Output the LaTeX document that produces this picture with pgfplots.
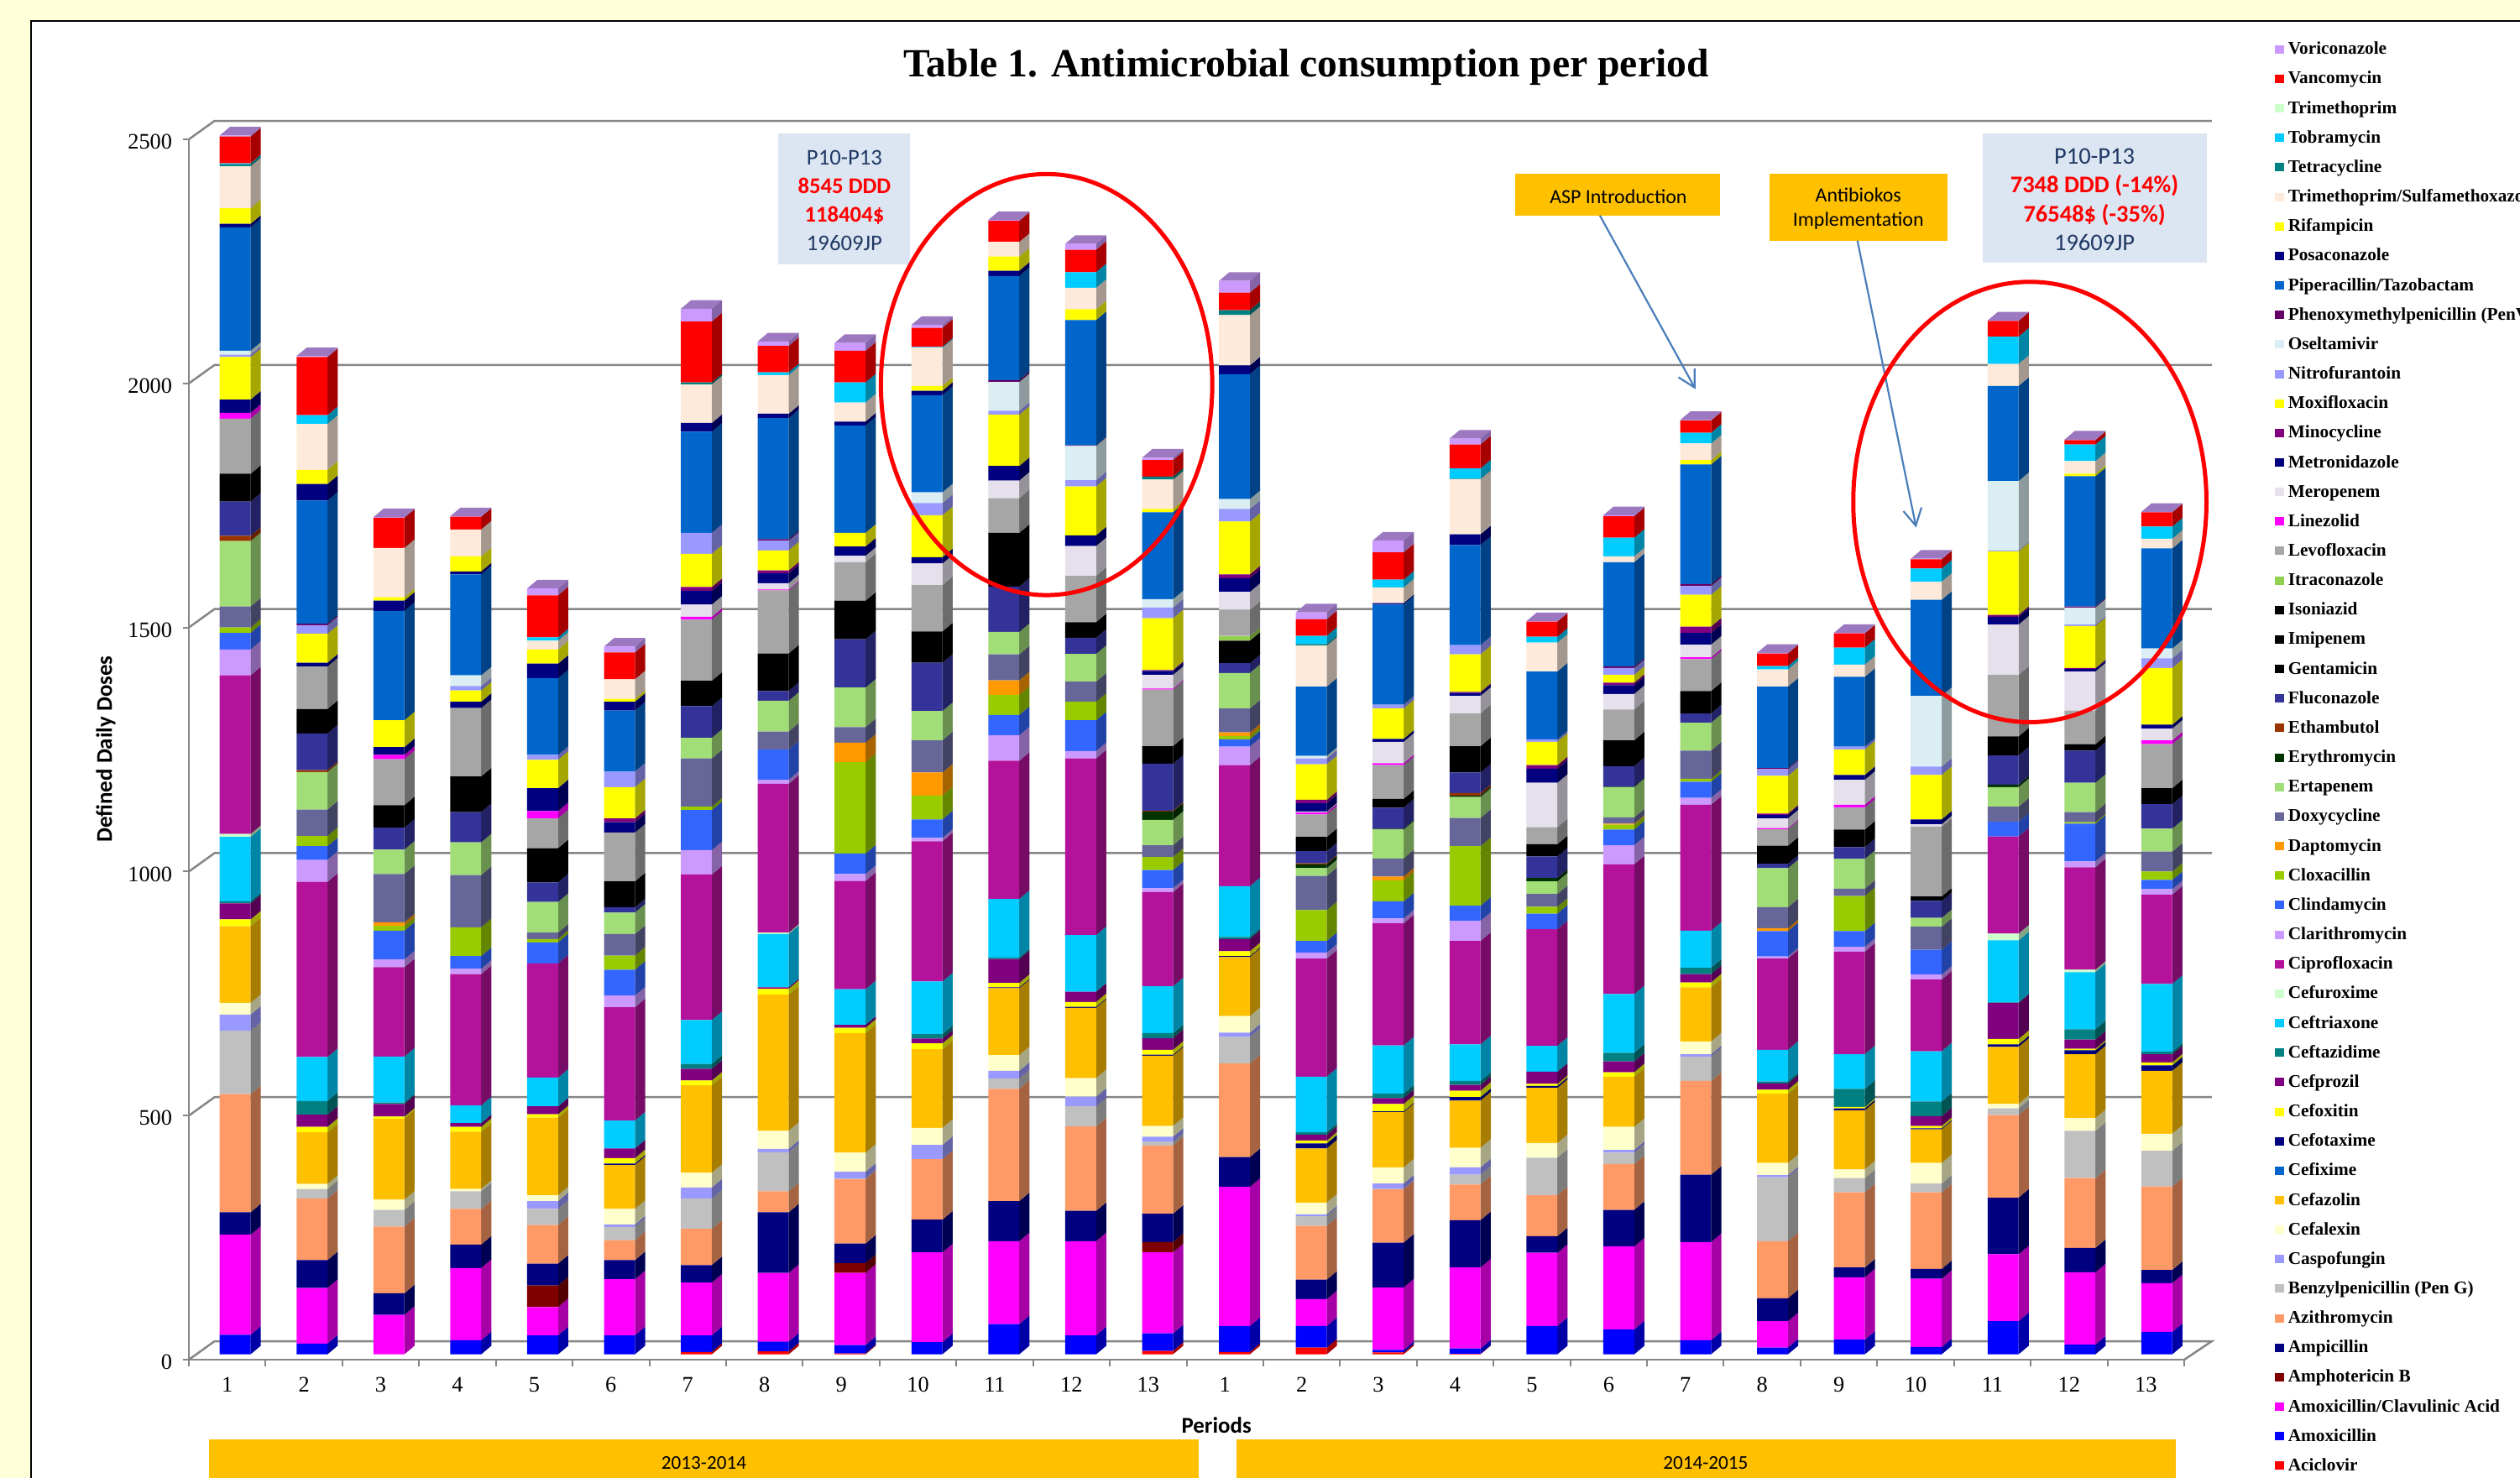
\documentclass[border=0pt]{standalone}
\usepackage{fontspec}
\setmainfont{Liberation Serif}
\newfontfamily\carlito{Carlito}
\usepackage{pgfplots}
\usepackage{pgfplotstable}
\pgfplotsset{compat=1.18}
\usetikzlibrary{arrows.meta}

% Defined daily doses per antimicrobial, one row per period (two 13-period years).
\pgfplotstableread{
p Aci Amox AmCl AmpB Ampi Azi Benz Casp Cfl Cfz Cfix Cftx Cfox Cfpr Cfta Cfrx Cfur Cip Clar Clin Clox Dapt Doxy Erta Eryt Etha Fluc Gent Imip Ison Itra Levo Linz Mero Metr Mino Moxi Nitr Osel PenV Pip Posa Rifa Tmsm Tetr Tobr Trim Vanc Vori
1  0 40 205 0 46   242 130 33 24 157  0 0 14 33 4   132 6 325 53 34  11 0 43 134 0  11 70 57 0 0  0 113 12 0 27  0 87 5 8 0   253 7 32 86 4  2 0 55 2
2  0 22 114 0 57   126 20 0 10 106   0 0 11 25 28  90 0 359 45 28   21 0 54 77 0   4 75 50 0 0   0 87 0 0 8    0 59 18 0 3  252 34 29 94 0  18 0 119 2
3  0 0 81 0 44     137 34 0 21 166   0 0 4 26 3    94 0 183 16 59   10 7 99 50 0  0 45 46 0 0   0 94 9 0 16   0 55 0 0 0   224 21 7 101 0  0 0 62 1
4  0 29 148 0 48   73 36 0 5 117     0 0 10 8 0    36 0 269 11 26   59 0 107 67 0 0 62 73 0 0   0 140 0 0 13  0 23 9 22 0  207 6 31 55 0   0 0 26 1
5  0 39 58 44 45   79 33 16 12 159   0 0 7 16 0    59 0 234 0 43    7 0 13 63 0   0 40 70 0 0   0 61 15 0 47  0 58 10 0 0  157 30 29 18 0  7 0 86 14
6  0 39 115 0 39   41 27 5 32 90     0 3 11 20 0   57 0 232 24 53   29 0 44 44 0  0 11 53 0 0   0 100 0 0 21  8 64 32 0 0  125 18 6 40 0   0 0 55 12
7  5 34 108 0 36   74 62 23 30 179   0 0 10 24 10  90 0 298 50 82   7 0 99 42 0   0 65 52 0 0   0 125 6 25 28 8 68 43 0 0  207 18 0 79 4   0 0 125 26
8  6 20 141 0 124  43 80 7 37 279    0 0 12 3 0    109 3 305 8 62   0 0 37 63 0   0 20 77 0 0   0 129 2 13 20 6 41 20 0 3  248 9 0 79 0    6 0 54 9
9  2 17 148 20 40  132 1 14 39 245   0 0 11 6 0    73 0 222 14 42   187 40 32 81 0 0 99 79 0 0  0 79 0 13 19  0 28 0 0 0   220 8 0 39 0    41 0 65 16
10 0 25 184 0 67   124 0 29 35 161   0 0 12 10 9   108 0 287 7 38   49 47 66 60 0 0 99 64 0 0   0 95 0 44 13  0 86 25 22 0 199 9 10 78 0   2 0 39 6
11 0 62 170 0 82   230 21 16 32 137  0 2 9 49 3    120 0 283 52 42  41 30 53 46 0 0 93 110 0 0  0 71 0 36 30  0 105 8 59 4 213 11 29 30 0  0 0 43 2
12 0 39 193 0 62   173 41 20 38 144  0 2 10 21 0   116 0 362 15 63  38 0 41 57 0  0 33 32 0 0   0 95 0 61 22  0 100 13 70 1 257 0 22 44 0  32 0 46 12
13 7 36 166 21 58  140 7 11 22 144   0 2 10 24 10  96 0 193 8 37    27 0 24 52 17 2 96 36 0 0   0 116 2 28 8  2 106 22 17 0 178 0 7 60 6   0 0 34 5
14 5 53 285 0 61   192 54 9 34 121   0 2 10 25 4   104 0 248 38 15  7 7 49 73 0   0 20 46 0 0   10 53 0 37 28 8 108 26 20 0 256 18 0 103 10 0 0 36 24
15 14 44 55 0 40   110 20 4 24 111   0 10 6 12 5   114 0 242 12 24  63 0 70 16 8  2 25 29 0 0   0 46 4 2 17   7 73 12 5 0  142 0 0 84 3    17 0 34 14
16 4 5 128 0 92    109 1 11 33 113   0 2 15 12 9   99 0 250 10 35   43 8 37 59 2  0 43 18 0 0   0 69 4 44 6   0 62 8 0 0   205 3 0 32 0    16 0 56 24
17 1 11 166 0 97   73 20 15 40 97    0 7 13 12 8   75 0 212 41 31   122 0 58 43 3 5 42 54 0 0   0 67 0 36 6   2 77 19 0 0  205 22 0 113 1  21 0 49 12
18 0 58 150 0 34   84 77 0 30 113    0 4 4 25 0    53 0 239 0 32    14 0 26 26 7  0 44 25 0 0   0 35 0 91 29  7 48 5 0 0   139 0 0 59 0    12 0 31 1
19 0 51 170 0 75   94 23 6 47 103    0 0 9 22 18   120 0 266 39 32  10 2 13 62 1  0 42 53 0 0   0 63 0 32 18  5 16 14 0 3  214 0 0 12 0    38 0 44 2
20 0 29 201 0 138  192 50 5 26 111   0 0 10 17 13  76 0 258 14 33   6 0 58 57 0   0 19 46 0 0   0 65 4 26 24  13 65 18 0 4 245 0 9 34 0    22 0 25 1
21 0 14 54 0 47    117 131 4 25 142  0 0 8 13 4    65 0 187 4 52    0 6 43 80 0   0 9 37 0 0    0 34 2 20 7   3 77 14 0 2  167 0 0 35 0    7 0 26 1
22 0 30 128 0 20   154 29 0 18 121   0 4 3 0 37    71 0 210 10 32   72 0 15 61 0  0 24 36 0 0   0 45 6 51 10  0 52 6 0 0   143 0 0 25 0    35 0 29 1
23 0 15 140 0 20   157 18 0 42 69    0 2 5 20 30   103 0 147 10 51  0 0 47 18 0   0 35 9 0 0    0 143 0 5 10  0 91 17 145 0 197 0 0 37 0   27 0 19 1
24 0 68 137 0 116  169 14 0 9 117    0 5 11 74 1   127 14 199 0 30  0 0 31 40 5   0 60 39 0 0   0 126 0 103 16 4 130 2 142 0 195 0 0 45 0  56 0 32 1
25 0 20 148 0 50   143 97 0 26 131   0 8 3 19 21   117 5 210 12 77  3 0 21 60 0   0 66 13 0 0   0 69 0 80 5   2 86 3 35 2  267 0 5 26 0    34 0 9 1
26 0 46 100 0 27   171 73 0 35 129   0 11 6 17 5   139 0 183 11 19  17 0 41 47 0  0 50 33 0 0   0 90 8 24 8   0 116 20 20 0 205 0 0 20 0    25 0 29 1
}\consumption

% Series colours
\definecolor{cAci}{HTML}{FF0000}\definecolor{cAmox}{HTML}{0000FF}\definecolor{cAmCl}{HTML}{FF00FF}
\definecolor{cAmpB}{HTML}{800000}\definecolor{cAmpi}{HTML}{000080}\definecolor{cAzi}{HTML}{FF9966}
\definecolor{cBenz}{HTML}{C0C0C0}\definecolor{cCasp}{HTML}{9999FF}\definecolor{cCfl}{HTML}{FFFFCC}
\definecolor{cCfz}{HTML}{FFC000}\definecolor{cCfix}{HTML}{0066CC}\definecolor{cCftx}{HTML}{000080}
\definecolor{cCfox}{HTML}{FFFF00}\definecolor{cCfpr}{HTML}{800080}\definecolor{cCfta}{HTML}{008080}
\definecolor{cCfrx}{HTML}{00CCFF}\definecolor{cCfur}{HTML}{CCFFCC}\definecolor{cCip}{HTML}{B5129C}
\definecolor{cClar}{HTML}{CC99FF}\definecolor{cClin}{HTML}{3366FF}\definecolor{cClox}{HTML}{99CC00}
\definecolor{cDapt}{HTML}{FF9900}\definecolor{cDoxy}{HTML}{666699}\definecolor{cErta}{HTML}{A2DE78}
\definecolor{cEryt}{HTML}{003300}\definecolor{cEtha}{HTML}{993300}\definecolor{cFluc}{HTML}{333399}
\definecolor{cGent}{HTML}{000000}\definecolor{cImip}{HTML}{000000}\definecolor{cIson}{HTML}{000000}
\definecolor{cItra}{HTML}{92D050}\definecolor{cLevo}{HTML}{A6A6A6}\definecolor{cLinz}{HTML}{FF00FF}
\definecolor{cMero}{HTML}{E6E0EC}\definecolor{cMetr}{HTML}{000080}\definecolor{cMino}{HTML}{800080}
\definecolor{cMoxi}{HTML}{FFFF00}\definecolor{cNitr}{HTML}{9999FF}\definecolor{cOsel}{HTML}{DAEEF3}
\definecolor{cPenV}{HTML}{660066}\definecolor{cPip}{HTML}{0066CC}\definecolor{cPosa}{HTML}{000080}
\definecolor{cRifa}{HTML}{FFFF00}\definecolor{cTmsm}{HTML}{FDEADA}\definecolor{cTetr}{HTML}{008080}
\definecolor{cTobr}{HTML}{00CCFF}\definecolor{cTrim}{HTML}{CCFFCC}\definecolor{cVanc}{HTML}{FF0000}
\definecolor{cVori}{HTML}{CC99FF}
\definecolor{pagebg}{HTML}{FFFFD9}\definecolor{wallgray}{HTML}{868686}
\definecolor{panel}{HTML}{DCE6F2}\definecolor{panelink}{HTML}{1F3864}
\definecolor{banner}{HTML}{FFC000}\definecolor{pointer}{HTML}{4A7EBB}
\definecolor{topface}{HTML}{9B78BF}

% Bar depth, in period units and in doses
\def\halfbar{0.2009}\def\depx{0.1334}\def\depy{17.7}

\pgfplotsforeachungrouped \row in {0,...,25}{\expandafter\xdef\csname sum\row\endcsname{0}}

% Darker side face of one series over all periods, stacked on what came before.
\newcommand\sideface[1]{%
  \gdef\coords{}%
  \pgfplotsforeachungrouped \row in {0,...,25}{%
    \pgfplotstablegetelem{\row}{#1}\of\consumption
    \pgfmathsetmacro\segv{\pgfplotsretval}%
    \pgfmathsetmacro\lo{\csname sum\row\endcsname}%
    \pgfmathsetmacro\hi{\lo+\segv}%
    \expandafter\xdef\csname sum\row\endcsname{\hi}%
    \ifdim\segv pt>0pt
      \pgfmathsetmacro\xa{\row+1+\halfbar}%
      \pgfmathsetmacro\xb{\xa+\depx}%
      \pgfmathsetmacro\la{\lo+\depy}%
      \pgfmathsetmacro\ha{\hi+\depy}%
      \xdef\coords{\coords (\xa,\lo)(\xb,\la)(\xb,\ha)(\xa,\hi)(\xa,nan)}%
    \fi
  }%
  \ifx\coords\empty\else
    \edef\temp{\noexpand\addplot[fill=c#1!65!black,draw=none,mark=none] coordinates {\coords};}\temp
  \fi
}
% Lid of each column, on top of the final stack height.
\newcommand\topfaces{%
  \gdef\coords{}%
  \pgfplotsforeachungrouped \row in {0,...,25}{%
    \pgfmathsetmacro\hi{\csname sum\row\endcsname}%
    \pgfmathsetmacro\ha{\hi+\depy}%
    \pgfmathsetmacro\xa{\row+1-\halfbar}%
    \pgfmathsetmacro\xb{\row+1+\halfbar}%
    \pgfmathsetmacro\xc{\xa+\depx}%
    \pgfmathsetmacro\xd{\xb+\depx}%
    \xdef\coords{\coords (\xa,\hi)(\xc,\ha)(\xd,\ha)(\xb,\hi)(\xa,nan)}%
  }%
  \edef\temp{\noexpand\addplot[fill=topface,draw=none,mark=none] coordinates {\coords};}\temp
}
% Front face of one series, with its legend entry.
\newcommand\frontbar[2]{%
  \addplot[fill=c#1,draw=none] table[x=p,y=#1]{\consumption};
  \addlegendentry{#2}
}

\begin{document}
\begin{tikzpicture}
\path[use as bounding box] (0,0) rectangle (30.02cm,17.61cm);
\fill[pagebg] (0,0) rectangle (30.02cm,17.61cm);
\filldraw[fill=white,draw=black,line width=0.016cm] (0.37cm,-0.5cm) rectangle (31cm,17.36cm);

% Frame: floor, left wall and tick labels
\begin{axis}[
  at={(2.25cm,1.41cm)},anchor=south west,scale only axis,
  width=23.77cm,height=14.54cm,
  xmin=0.5,xmax=26.5,ymin=0,ymax=2500,clip=false,
  axis x line=bottom,axis y line=left,
  axis line style={draw=wallgray,line width=0.025cm,-},
  tick style={draw=wallgray,line width=0.02cm},
  tick align=outside,major tick length=0.075cm,
  xtick={0.5,1.5,...,26.5},xticklabels={},
  extra x ticks={1,...,26},
  extra x tick labels={1,2,3,4,5,6,7,8,9,10,11,12,13,1,2,3,4,5,6,7,8,9,10,11,12,13},
  extra x tick style={major tick length=0pt,tick style={draw=none}},
  ytick={0,500,1000,1500,2000,2500},
  /pgf/number format/1000 sep={},
  /pgf/number format/assume math mode=true,
  tick label style={font=\fontsize{7.5}{9}\selectfont},
  yticklabel style={yshift=-0.03cm},
  xticklabel style={yshift=-0.09cm},
  unbounded coords=jump,
]
\addplot[wallgray,line width=0.025cm,mark=none] coordinates {
  (0.5,0)(0.835,37.8)(26.86,37.8)(26.5,0)(26.5,nan)
  (0.5,500)(0.835,537.8)(26.86,537.8)(26.86,nan)
  (0.5,1000)(0.835,1037.8)(26.86,1037.8)(26.86,nan)
  (0.5,1500)(0.835,1537.8)(26.86,1537.8)(26.86,nan)
  (0.5,2000)(0.835,2037.8)(26.86,2037.8)(26.86,nan)
  (0.5,2500)(0.835,2537.8)(26.86,2537.8)
};
\end{axis}

% Side faces and lids of the columns
\begin{axis}[
  at={(2.343cm,1.473cm)},anchor=south west,scale only axis,
  width=23.808cm,height=14.54cm,hide axis,
  xmin=0.5,xmax=26.5,ymin=0,ymax=2500,clip=false,
  unbounded coords=jump,
]
\sideface{Aci}\sideface{Amox}\sideface{AmCl}\sideface{AmpB}\sideface{Ampi}
\sideface{Azi}\sideface{Benz}\sideface{Casp}\sideface{Cfl}\sideface{Cfz}
\sideface{Cfix}\sideface{Cftx}\sideface{Cfox}\sideface{Cfpr}\sideface{Cfta}
\sideface{Cfrx}\sideface{Cfur}\sideface{Cip}\sideface{Clar}\sideface{Clin}
\sideface{Clox}\sideface{Dapt}\sideface{Doxy}\sideface{Erta}\sideface{Eryt}
\sideface{Etha}\sideface{Fluc}\sideface{Gent}\sideface{Imip}\sideface{Ison}
\sideface{Itra}\sideface{Levo}\sideface{Linz}\sideface{Mero}\sideface{Metr}
\sideface{Mino}\sideface{Moxi}\sideface{Nitr}\sideface{Osel}\sideface{PenV}
\sideface{Pip}\sideface{Posa}\sideface{Rifa}\sideface{Tmsm}\sideface{Tetr}
\sideface{Tobr}\sideface{Trim}\sideface{Vanc}\sideface{Vori}
\topfaces
\end{axis}

% Front faces of the stacked columns and the legend
\begin{axis}[
  at={(2.343cm,1.473cm)},anchor=south west,scale only axis,
  width=23.808cm,height=14.54cm,hide axis,
  xmin=0.5,xmax=26.5,ymin=0,ymax=2500,clip=false,
  ybar stacked,bar width=0.368cm,
  reverse legend,legend cell align=left,
  legend image code/.code={\fill[#1,draw=none] (0cm,-0.05cm) rectangle (0.11cm,0.05cm);},
  legend style={at={(1.0399,1.0815)},anchor=north west,draw=none,fill=none,
    inner sep=0pt,outer sep=0pt,row sep=0pt,column sep=0.047cm,
    nodes={inner sep=0pt,outer sep=0pt,text height=0.2358cm,text depth=0.1158cm,
      font=\bfseries\fontsize{6.05}{7}\selectfont}},
]
\frontbar{Aci}{Aciclovir}
\frontbar{Amox}{Amoxicillin}
\frontbar{AmCl}{Amoxicillin/Clavulinic Acid}
\frontbar{AmpB}{Amphotericin B}
\frontbar{Ampi}{Ampicillin}
\frontbar{Azi}{Azithromycin}
\frontbar{Benz}{Benzylpenicillin (Pen G)}
\frontbar{Casp}{Caspofungin}
\frontbar{Cfl}{Cefalexin}
\frontbar{Cfz}{Cefazolin}
\frontbar{Cfix}{Cefixime}
\frontbar{Cftx}{Cefotaxime}
\frontbar{Cfox}{Cefoxitin}
\frontbar{Cfpr}{Cefprozil}
\frontbar{Cfta}{Ceftazidime}
\frontbar{Cfrx}{Ceftriaxone}
\frontbar{Cfur}{Cefuroxime}
\frontbar{Cip}{Ciprofloxacin}
\frontbar{Clar}{Clarithromycin}
\frontbar{Clin}{Clindamycin}
\frontbar{Clox}{Cloxacillin}
\frontbar{Dapt}{Daptomycin}
\frontbar{Doxy}{Doxycycline}
\frontbar{Erta}{Ertapenem}
\frontbar{Eryt}{Erythromycin}
\frontbar{Etha}{Ethambutol}
\frontbar{Fluc}{Fluconazole}
\frontbar{Gent}{Gentamicin}
\frontbar{Imip}{Imipenem}
\frontbar{Ison}{Isoniazid}
\frontbar{Itra}{Itraconazole}
\frontbar{Levo}{Levofloxacin}
\frontbar{Linz}{Linezolid}
\frontbar{Mero}{Meropenem}
\frontbar{Metr}{Metronidazole}
\frontbar{Mino}{Minocycline}
\frontbar{Moxi}{Moxifloxacin}
\frontbar{Nitr}{Nitrofurantoin}
\frontbar{Osel}{Oseltamivir}
\frontbar{PenV}{Phenoxymethylpenicillin (PenV)}
\frontbar{Pip}{Piperacillin/Tazobactam}
\frontbar{Posa}{Posaconazole}
\frontbar{Rifa}{Rifampicin}
\frontbar{Tmsm}{Trimethoprim/Sulfamethoxazole}
\frontbar{Tetr}{Tetracycline}
\frontbar{Tobr}{Tobramycin}
\frontbar{Trim}{Trimethoprim}
\frontbar{Vanc}{Vancomycin}
\frontbar{Vori}{Voriconazole}
\end{axis}

% Title, axis names, year bands, notes and highlights (positions in 0.1 mm from the top left)
\begin{scope}[x=0.01cm,y=-0.01cm,yshift=17.61cm]
\node[font=\bfseries\fontsize{13.55}{16}\selectfont] at (1557,80) {Table 1. Antimicrobial consumption per period};
\node[font=\carlito\bfseries\fontsize{7.65}{8}\selectfont,rotate=90] at (126,893) {Defined Daily Doses};
\node[font=\carlito\bfseries\fontsize{7.65}{8}\selectfont] at (1450,1699) {Periods};

\fill[banner] (249,1716) rectangle (1429,1790);
\fill[banner] (1474,1716) rectangle (2593,1790);
\node[font=\carlito\fontsize{6.6}{8}\selectfont] at (839,1744) {2013-2014};
\node[font=\carlito\fontsize{6.6}{8}\selectfont] at (2033,1744) {2014-2015};

\fill[panel] (928,159) rectangle (1085,315);
\node[font=\carlito\fontsize{7.6}{9.7}\selectfont,align=center,text=panelink] at (1006.5,239)
  {P10-P13\\{\bfseries\color{red}8545 DDD}\\{\bfseries\color{red}118404\$}\\19609JP};
\fill[panel] (2363,159) rectangle (2630,313);
\node[font=\carlito\fontsize{8.1}{9.7}\selectfont,align=center,text=panelink] at (2496.5,238)
  {P10-P13\\{\bfseries\color{red}7348 DDD (-14\%)}\\{\bfseries\color{red}76548\$ (-35\%)}\\19609JP};

\fill[banner] (1806,207) rectangle (2050,257);
\node[font=\carlito\fontsize{6.8}{8}\selectfont] at (1929,234) {ASP Introduction};
\fill[banner] (2109,207) rectangle (2321,287);
\node[font=\carlito\fontsize{6.8}{8.4}\selectfont,align=center] at (2215,249) {Antibiokos\\Implementation};

\draw[pointer,line width=0.022cm,-{Straight Barb[length=0.2cm,width=0.22cm]}] (1907,257) -- (2021,464);
\draw[pointer,line width=0.022cm,-{Straight Barb[length=0.2cm,width=0.22cm]}] (2214,287) -- (2284,629);

\draw[red,line width=0.05cm] (1247.5,458.5) ellipse [x radius=197.5,y radius=251];
\draw[red,line width=0.05cm] (2419.5,598.5) ellipse [x radius=210.5,y radius=262.5];
\end{scope}
\end{tikzpicture}
\end{document}
